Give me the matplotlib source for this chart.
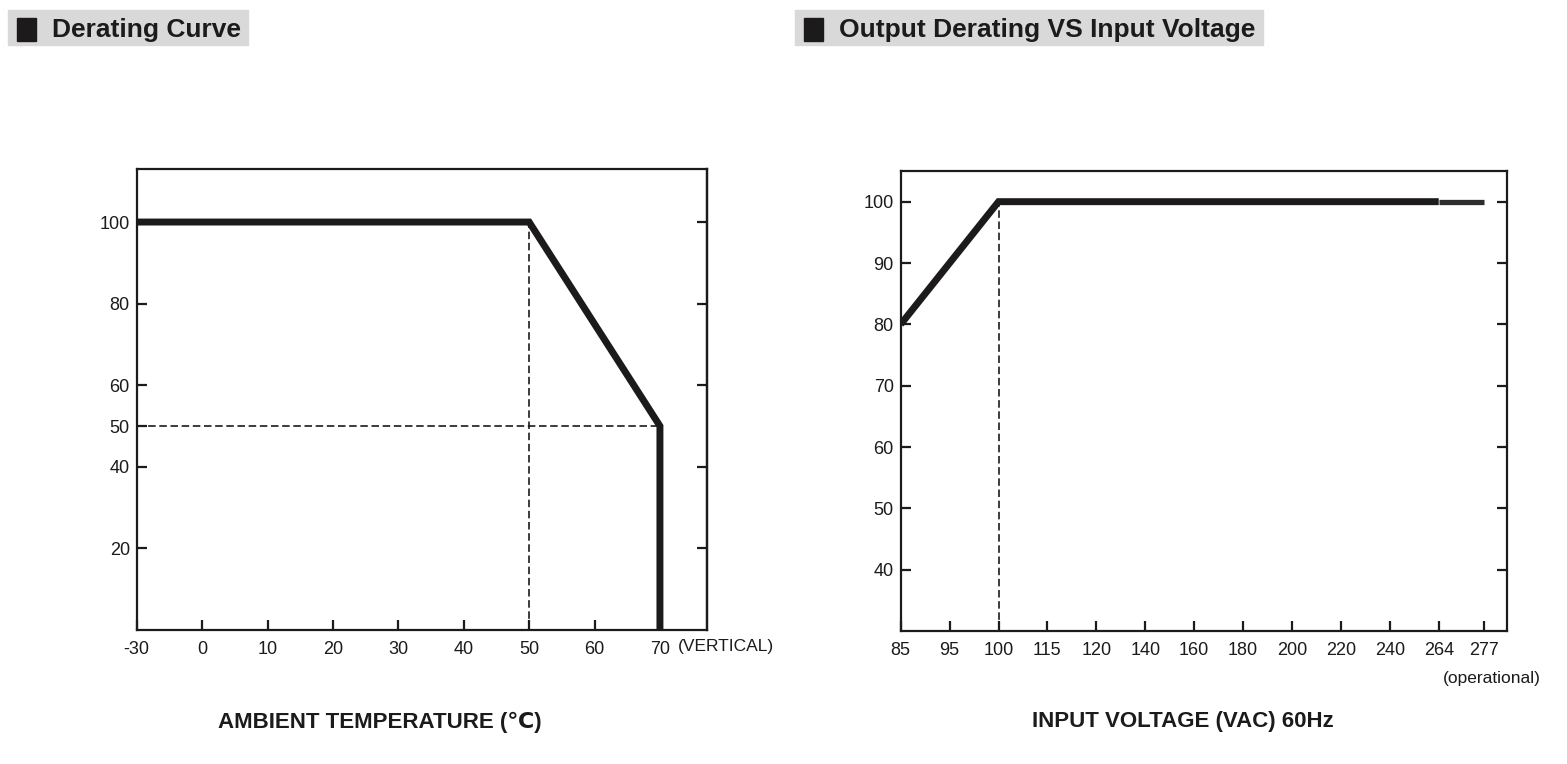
import numpy as np
import matplotlib
matplotlib.use("Agg")
import matplotlib.pyplot as plt
import matplotlib.patches as patches

plt.rcParams['font.family'] = ['Liberation Sans', 'DejaVu Sans']

# derating curve (load % vs ambient temperature)
temp_ticks = [-30, 0, 10, 20, 30, 40, 50, 60, 70]
temp_pts = [-30, 50, 70, 70]
temp_load = [100, 100, 50, 0]
load_ticks1 = [20, 40, 50, 60, 80, 100]
load_ticks1_right = [20, 40, 60, 80, 100]

# output derating vs input voltage
volt_ticks = [85, 95, 100, 115, 120, 140, 160, 180, 200, 220, 240, 264, 277]
volt_pts = [85, 100, 264]
volt_load = [80, 100, 100]
volt_op_pts = [264, 277]
volt_op_load = [100, 100]
load_ticks2 = [40, 50, 60, 70, 80, 90, 100]

# axis layout (ticks are evenly spaced, not to scale)
temp_pos = [-10, 0, 10, 20, 30, 40, 50, 60, 70]
volt_pos = list(range(12)) + [11.92]

ink = '#1c1a1b'
W, H = 1567, 764
fig = plt.figure(figsize=(W / 100, H / 100), dpi=100)

def px(x, y):
    return x / W, 1 - y / H

def title_box(x0, x1, text):
    fig.patches.append(patches.Rectangle(px(x0, 45), (x1 - x0) / W, 35 / H,
                                         transform=fig.transFigure, color='#d9d9d9', zorder=0))
    fig.patches.append(patches.Rectangle(px(x0 + 9, 41), 19 / W, 23 / H,
                                         transform=fig.transFigure, color=ink, zorder=1))
    fig.text(*px(x0 + 44, 30), text, fontsize=19, fontweight='bold', color=ink,
             ha='left', va='center')

title_box(8, 248, "Derating Curve")
title_box(795, 1263, "Output Derating VS Input Voltage")

def style(ax):
    for s in ax.spines.values():
        s.set_linewidth(1.6)
        s.set_color(ink)
    ax.tick_params(direction='in', length=7, width=1.6, color=ink, labelsize=13,
                   labelcolor=ink)
    ax.tick_params(axis='x', pad=8)
    ax.tick_params(axis='y', pad=5)

# ---- chart 1
ax1 = fig.add_axes([136.7 / W, 1 - 630 / H, 570 / W, 461 / H])
style(ax1)
x1 = np.interp(temp_pts, temp_ticks, temp_pos)
ax1.plot(x1, temp_load, color=ink, lw=5, solid_joinstyle='miter', solid_capstyle='butt', zorder=3)
ax1.plot([x1[1], x1[1]], [0, temp_load[1]], color=ink, lw=1.2, dashes=(4.5, 2.2))
ax1.plot([x1[0], x1[2]], [temp_load[2], temp_load[2]], color=ink, lw=1.2, dashes=(4.5, 2.2))
ax1.set_xlim(-10, 77.15)
ax1.set_ylim(0, 113)
ax1.set_xticks(temp_pos)
ax1.set_xticklabels([str(t) for t in temp_ticks])
ax1.set_yticks(load_ticks1)
sec = ax1.secondary_yaxis('right')
sec.set_yticks(load_ticks1_right)
sec.set_yticklabels([])
sec.tick_params(direction='in', length=7, width=1.6, color=ink)
sec.spines['right'].set_linewidth(1.6)

fig.text(*px(726, 647), "(VERTICAL)", fontsize=12.5, color=ink, ha='center', va='center')
fig.text(*px(380, 722), "AMBIENT TEMPERATURE (\u2103)", fontsize=16, fontweight='bold',
         color=ink, ha='center', va='center')

# ---- chart 2
ax2 = fig.add_axes([900.7 / W, 1 - 631 / H, 606 / W, 460 / H])
style(ax2)
x2 = np.interp(volt_pts, volt_ticks, volt_pos)
x2op = np.interp(volt_op_pts, volt_ticks, volt_pos)
ax2.plot(x2, volt_load, color=ink, lw=5, solid_joinstyle='miter', solid_capstyle='butt', zorder=3)
ax2.plot(x2op, volt_op_load, color='#2e2c2d', lw=3.8, solid_capstyle='butt', zorder=2)
ax2.plot([x2[1], x2[1]], [30, volt_load[1]], color=ink, lw=1.2, dashes=(4.5, 2.2))
ax2.set_xlim(0, 12.39)
ax2.set_ylim(30, 105)
ax2.set_xticks(volt_pos)
ax2.set_xticklabels([str(v) for v in volt_ticks])
ax2.set_yticks(load_ticks2)
ax2.tick_params(right=True, labelright=False)

fig.text(*px(1492, 678), "(operational)", fontsize=12.5, color=ink, ha='center', va='center')
fig.text(*px(1183, 722), "INPUT VOLTAGE (VAC) 60Hz", fontsize=16, fontweight='bold',
         color=ink, ha='center', va='center')

fig.savefig("out.png", dpi=100)
